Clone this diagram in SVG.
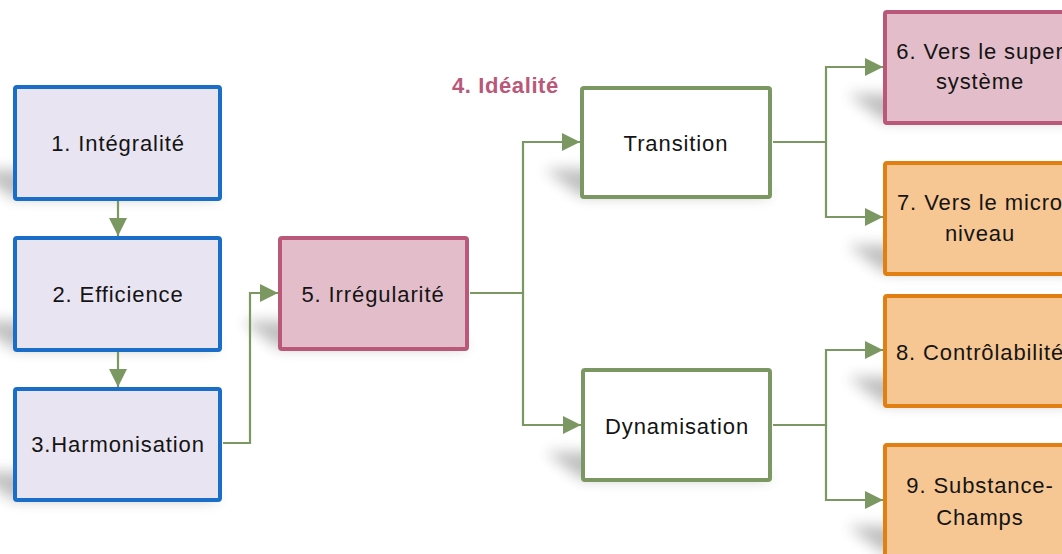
<svg xmlns="http://www.w3.org/2000/svg" width="1062" height="554" viewBox="0 0 1062 554">
  <style>
    .lbl { font-family: "Liberation Sans", Arial, sans-serif; font-size: 22px; letter-spacing: 0.9px; fill: #141414; text-anchor: middle; }
    .blue { fill: #e9e4f1; stroke: #1a6ec8; stroke-width: 4; }
    .pink { fill: #e3bdca; stroke: #b95879; stroke-width: 4; }
    .green { fill: #ffffff; stroke: #7b9762; stroke-width: 4; }
    .orange { fill: #f6c792; stroke: #e27f12; stroke-width: 4; }
    .shadow { fill: #3a3a3a; opacity: 0.32; filter: url(#soft); }
    .wire { fill: none; stroke: #7b9762; stroke-width: 2.2; marker-end: url(#arrow); }
    .title { font-family: "Liberation Sans", Arial, sans-serif; font-size: 22px; letter-spacing: 0.6px; font-weight: bold; fill: #b95879; }
  </style>
  <defs>
    <filter id="soft" x="-30%" y="-100%" width="160%" height="300%">
      <feGaussianBlur stdDeviation="7"/>
    </filter>
    <marker id="arrow" markerUnits="userSpaceOnUse" markerWidth="18" markerHeight="18" refX="18" refY="9" orient="auto">
      <path d="M0,0 L18,9 L0,18 z" fill="#7b9762"/>
    </marker>
  </defs>

  <rect width="1062" height="554" fill="#ffffff"/>

  <!-- cast shadows behind the boxes -->
  <g id="shadows">
    <polygon class="shadow" points="-25,170 185,170 220,198 13,198"/>
    <polygon class="shadow" points="-25,321 185,321 220,349 13,349"/>
    <polygon class="shadow" points="-25,472 185,472 220,500 13,500"/>
    <polygon class="shadow" points="243,321 435,321 469,348 278,348"/>
    <polygon class="shadow" points="545,169 737,169 772,196 580,196"/>
    <polygon class="shadow" points="546,452 737,452 772,479 581,479"/>
    <polygon class="shadow" points="848,94 1044,94 1079,121 883,121"/>
    <polygon class="shadow" points="848,245 1044,245 1079,272 883,272"/>
    <polygon class="shadow" points="848,377 1044,377 1079,404 883,404"/>
    <polygon class="shadow" points="848,526 1044,526 1079,553 883,553"/>
  </g>

  <!-- connectors -->
  <g id="connectors">
    <path class="wire" d="M118,201 V236"/>
    <path class="wire" d="M118,352 V387"/>
    <path class="wire" d="M223,443 H250 V293 H278"/>
    <path class="wire" d="M470,293 H523 V142 H580"/>
    <path class="wire" d="M523,293 V425 H581"/>
    <path class="wire" d="M773,142 H826 V67 H883"/>
    <path class="wire" d="M826,142 V217 H883"/>
    <path class="wire" d="M773,425 H826 V350 H883"/>
    <path class="wire" d="M826,425 V500 H883"/>
  </g>

  <!-- group heading -->
  <text id="heading" class="title" x="452" y="93">4. Idéalité</text>

  <g id="n1">
    <rect class="blue" x="15" y="87" width="205" height="112" rx="2"/>
    <text class="lbl" x="118" y="151">1. Intégralité</text>
  </g>
  <g id="n2">
    <rect class="blue" x="15" y="238" width="205" height="112" rx="2"/>
    <text class="lbl" x="118" y="302">2. Efficience</text>
  </g>
  <g id="n3">
    <rect class="blue" x="15" y="389" width="205" height="111" rx="2"/>
    <text class="lbl" x="118" y="452">3.Harmonisation</text>
  </g>
  <g id="n5">
    <rect class="pink" x="280" y="238" width="187" height="111" rx="2"/>
    <text class="lbl" x="373" y="302">5. Irrégularité</text>
  </g>
  <g id="transition">
    <rect class="green" x="582" y="88" width="188" height="109" rx="2"/>
    <text class="lbl" x="676" y="151">Transition</text>
  </g>
  <g id="dynamisation">
    <rect class="green" x="583" y="370" width="187" height="110" rx="2"/>
    <text class="lbl" x="677" y="434">Dynamisation</text>
  </g>
  <g id="n6">
    <rect class="pink" x="885" y="12" width="194" height="111" rx="2"/>
    <text class="lbl" x="980" y="59">6. Vers le super</text>
    <text class="lbl" x="980" y="89">système</text>
  </g>
  <g id="n7">
    <rect class="orange" x="885" y="163" width="194" height="111" rx="2"/>
    <text class="lbl" x="980" y="210">7. Vers le micro</text>
    <text class="lbl" x="980" y="241">niveau</text>
  </g>
  <g id="n8">
    <rect class="orange" x="885" y="296" width="194" height="110" rx="2"/>
    <text class="lbl" x="980" y="360">8. Contrôlabilité</text>
  </g>
  <g id="n9">
    <rect class="orange" x="885" y="445" width="194" height="112" rx="2"/>
    <text class="lbl" x="980" y="493">9. Substance-</text>
    <text class="lbl" x="980" y="525">Champs</text>
  </g>
</svg>
